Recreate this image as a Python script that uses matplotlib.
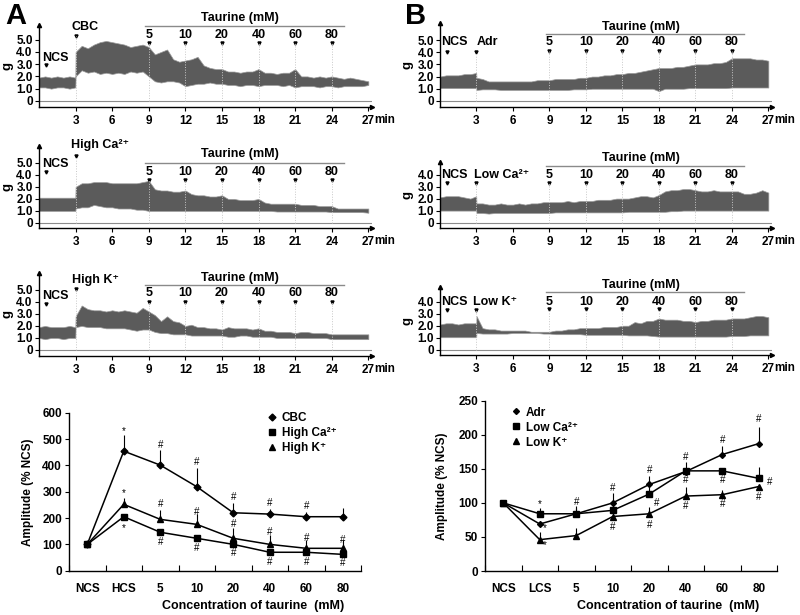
import numpy as np
import matplotlib
matplotlib.use('Agg')
import matplotlib.pyplot as plt
from matplotlib.lines import Line2D

plt.rcParams['font.family'] = ['Liberation Sans', 'DejaVu Sans']
plt.rcParams['font.weight'] = 'bold'

# ---------------- data ----------------
trace_time = [0, 0.5, 1, 1.5, 2, 2.5, 2.98] + list(np.arange(3.0, 27.01, 0.5))

cbc_up = [1.9, 2.0, 1.9, 2.0, 1.9, 2.0, 1.9,
          4.0,
          4.5, 4.3, 4.6, 4.8, 4.9, 4.8, 4.7, 4.6, 4.4, 4.5, 4.6, 4.4,
          3.8, 4.0, 4.2, 3.4, 3.2, 3.3, 3.4, 3.6, 2.9, 2.7, 2.6, 2.6,
          2.4, 2.4, 2.3, 2.4, 2.4, 2.6, 2.3, 2.3, 2.2, 2.3, 2.3, 2.6,
          2.0, 2.0, 1.9, 2.0, 1.9, 2.0, 1.9, 1.8, 1.9, 1.8, 1.7, 1.6]
cbc_lo = [1.1, 1.1, 1.0, 1.1, 1.1, 1.0, 1.1,
          2.0,
          2.5, 2.3, 2.4, 2.2, 2.3, 2.2, 2.3, 2.2, 2.4, 2.3, 2.4, 2.0,
          1.6, 1.5, 1.6, 1.6, 1.5, 1.2, 1.3, 1.4, 1.4, 1.5, 1.4, 1.4,
          1.3, 1.3, 1.2, 1.3, 1.3, 1.2, 1.3, 1.3, 1.3, 1.2, 1.3, 1.1,
          1.2, 1.2, 1.2, 1.1, 1.2, 1.2, 1.1, 1.2, 1.2, 1.2, 1.2, 1.3]

hca_up = [2.1, 2.1, 2.1, 2.1, 2.1, 2.1, 2.1,
          3.0,
          3.3, 3.3, 3.4, 3.4, 3.4, 3.3, 3.3, 3.3, 3.3, 3.3, 3.4, 3.5,
          2.8, 2.7, 2.7, 2.6, 2.6, 2.7, 2.4, 2.3, 2.3, 2.2, 2.2, 2.3,
          2.0, 2.0, 1.9, 1.9, 1.9, 2.0, 1.7, 1.6, 1.6, 1.6, 1.6, 1.6,
          1.5, 1.5, 1.5, 1.4, 1.4, 1.4, 1.2, 1.2, 1.2, 1.2, 1.2, 1.2]
hca_lo = [1.0, 1.0, 1.0, 1.0, 1.0, 1.0, 1.0,
          1.2,
          1.3, 1.3, 1.5, 1.4, 1.3, 1.3, 1.2, 1.2, 1.2, 1.1, 1.1, 1.0,
          1.0, 1.0, 1.0, 1.0, 1.0, 1.0, 1.0, 1.0, 1.0, 1.0, 1.0, 1.0,
          1.0, 1.0, 1.0, 1.0, 1.0, 1.0, 1.0, 1.0, 0.95, 0.95, 0.95, 0.95,
          0.95, 0.95, 0.95, 0.95, 0.95, 0.9, 0.9, 0.9, 0.9, 0.9, 0.9, 0.85]

hk_up = [1.9, 2.0, 1.9, 1.9, 1.9, 2.0, 1.9,
         2.8,
         3.7, 3.4, 3.3, 3.3, 3.2, 3.3, 3.2, 3.3, 3.2, 3.1, 3.5, 3.2,
         2.9, 2.4, 2.8, 2.4, 2.3, 2.0, 2.1, 1.9, 1.9, 1.8, 1.8, 1.7,
         1.9, 1.8, 1.8, 1.8, 1.7, 1.8, 1.6, 1.6, 1.5, 1.5, 1.5, 1.4,
         1.5, 1.5, 1.4, 1.4, 1.4, 1.3, 1.3, 1.3, 1.3, 1.3, 1.3, 1.3]
hk_lo = [1.0, 0.9, 1.0, 1.0, 0.9, 1.0, 1.0,
         1.9,
         2.0, 1.9, 1.9, 1.9, 1.8, 1.8, 1.8, 1.8, 1.7, 1.6, 1.7, 1.7,
         1.5, 1.4, 1.4, 1.3, 1.3, 1.3, 1.2, 1.2, 1.2, 1.2, 1.2, 1.2,
         1.1, 1.1, 1.2, 1.2, 1.1, 1.1, 1.1, 1.1, 1.0, 1.0, 1.0, 1.0,
         1.0, 1.0, 1.0, 1.0, 1.0, 0.9, 0.9, 0.9, 0.9, 0.9, 0.9, 0.9]

adr_up = [2.0, 2.1, 2.1, 2.1, 2.2, 2.2, 2.3,
          1.9,
          1.8, 1.6, 1.6, 1.6, 1.6, 1.6, 1.6, 1.6, 1.6, 1.7, 1.7, 1.7,
          1.8, 1.8, 1.8, 1.8, 1.9, 1.9, 2.0, 2.0, 2.1, 2.1, 2.2, 2.2,
          2.3, 2.3, 2.4, 2.5, 2.6, 2.7, 2.7, 2.7, 2.8, 2.8, 2.9, 3.0,
          3.0, 3.0, 3.1, 3.1, 3.2, 3.5, 3.5, 3.5, 3.5, 3.4, 3.4, 3.3]
adr_lo = [1.05, 1.05, 1.05, 1.05, 1.05, 1.05, 1.05,
          0.9,
          0.95, 0.95, 0.95, 0.9, 0.9, 0.9, 0.9, 0.9, 0.9, 0.9, 0.9, 0.9,
          0.9, 0.9, 0.9, 0.95, 0.95, 0.95, 1.0, 1.0, 1.0, 1.0, 1.0, 1.0,
          1.0, 1.0, 1.0, 1.0, 1.0, 0.8, 1.0, 1.0, 1.0, 1.0, 1.05, 1.05,
          1.05, 1.05, 1.05, 1.05, 1.05, 1.1, 1.1, 1.1, 1.1, 1.1, 1.1, 1.1]

lca_up = [2.1, 2.2, 2.2, 2.2, 2.1, 2.0, 2.2,
          1.6,
          1.6, 1.5, 1.5, 1.6, 1.5, 1.5, 1.6, 1.5, 1.6, 1.6, 1.7, 1.7,
          1.7, 1.7, 1.8, 1.7, 1.8, 1.8, 1.8, 1.9, 1.9, 1.9, 2.0, 2.0,
          2.0, 2.1, 2.2, 2.2, 2.1, 2.3, 2.6, 2.7, 2.7, 2.8, 2.8, 2.7,
          2.6, 2.6, 2.7, 2.6, 2.6, 2.6, 2.6, 2.4, 2.4, 2.5, 2.7, 2.5]
lca_lo = [1.0, 1.0, 1.0, 1.0, 1.0, 1.0, 1.0,
          0.8,
          0.8, 0.75, 0.8, 0.8, 0.8, 0.8, 0.8, 0.8, 0.8, 0.8, 0.8, 0.8,
          0.85, 0.85, 0.85, 0.85, 0.85, 0.85, 0.85, 0.85, 0.85, 0.85, 0.85, 0.85,
          0.9, 0.9, 0.9, 0.9, 0.9, 0.9, 0.9, 0.95, 0.95, 1.0, 1.0, 1.0,
          1.0, 1.0, 1.0, 1.0, 1.0, 1.0, 1.0, 1.0, 1.0, 1.0, 1.0, 1.0]

lk_up = [2.1, 2.2, 2.2, 2.1, 2.2, 2.2, 2.2,
         2.8,
         1.8, 1.7, 1.7, 1.6, 1.6, 1.6, 1.6, 1.6, 1.5, 1.5, 1.5, 1.5,
         1.6, 1.6, 1.7, 1.7, 1.8, 1.8, 1.8, 1.8, 1.9, 1.9, 1.9, 2.0,
         2.0, 2.3, 2.2, 2.4, 2.4, 2.6, 2.5, 2.5, 2.5, 2.4, 2.4, 2.3,
         2.4, 2.4, 2.5, 2.5, 2.5, 2.6, 2.6, 2.6, 2.7, 2.8, 2.8, 2.7]
lk_lo = [1.05, 1.05, 1.05, 1.05, 1.05, 1.05, 1.05,
         1.4,
         1.35, 1.35, 1.35, 1.35, 1.35, 1.4, 1.4, 1.4, 1.4, 1.4, 1.35, 1.35,
         1.3, 1.3, 1.3, 1.3, 1.3, 1.25, 1.25, 1.25, 1.25, 1.25, 1.25, 1.25,
         1.2, 1.2, 1.2, 1.2, 1.15, 1.1, 1.1, 1.1, 1.1, 1.1, 1.1, 1.1,
         1.1, 1.1, 1.1, 1.1, 1.1, 1.15, 1.15, 1.15, 1.2, 1.2, 1.2, 1.2]

taurine_labels = ['5', '10', '20', '40', '60', '80']
taurine_times = [9, 12, 15, 18, 21, 24]
minute_ticks = [3, 6, 9, 12, 15, 18, 21, 24, 27]

cats_left = ['NCS', 'HCS', '5', '10', '20', '40', '60', '80']
cbc_amp = [100, 454, 401, 319, 220, 215, 205, 205]
cbc_err = [0, 61, 57, 70, 36, 18, 19, 32]
hca_amp = [100, 205, 146, 123, 100, 70, 70, 62]
hca_err = [0, 8, 8, 8, 8, 6, 6, 6]
hk_amp = [100, 252, 195, 176, 123, 100, 85, 85]
hk_err = [0, 25, 35, 38, 38, 35, 31, 31]
left_marks = [(1, 532, '*'), (2, 477, '#'), (3, 414, '#'), (4, 281, '#'), (5, 258, '#'), (6, 247, '#'),
              (1, 296, '*'), (2, 252, '#'), (3, 224, '#'), (4, 176, '#'), (5, 148, '#'), (6, 123, '#'), (7, 116, '#'),
              (1, 161, '*'), (2, 110, '#'), (3, 87, '#'), (4, 66, '#'), (5, 34, '#'), (6, 34, '#'), (7, 30, '#')]

cats_right = ['NCS', 'LCS', '5', '10', '20', '40', '60', '80']
adr_amp = [100, 69, 84, 100, 127, 146, 171, 187]
adr_err = [0, 0, 12, 14, 13, 14, 12, 25]
lca_amp = [100, 84, 84, 89, 113, 147, 147, 136]
lca_err = [0, 9, 8, 10, 12, 0, 0, 17]
lk_amp = [100, 46, 52, 80, 84, 110, 112, 124]
lk_err = [0, 11, 11, 8, 10, 14, 7, 0]
right_marks = [(1.15, 63, '*'), (2, 102, '#'), (3, 122, '#'), (4, 148, '#'), (5, 168, '#'), (6, 193, '#'), (7, 223, '#'),
               (1, 98, '*'), (4.2, 100, '#'), (5, 133, '#'), (6, 134, '#'), (7.3, 131, '#'),
               (1.15, 38, '*'), (3, 65, '#'), (4, 68, '#'), (5, 96, '#'), (6, 99, '#'), (7, 109, '#')]

# ---------------- figure ----------------
W, H = 800, 615
fig = plt.figure(figsize=(W / 100, H / 100), dpi=100)
FILL = '#5b5b5b'
TFS = 8.5   # trace tick font size
LFS = 9     # trace label font size


def px_axes(x0, x1, ytop, ybot):
    return fig.add_axes([x0 / W, 1 - ybot / H, (x1 - x0) / W, (ybot - ytop) / H])


def trace_panel(px, ylim, ymax_tick, upper, lower, stim, cfg, glabel_x):
    ax = px_axes(*px)
    ax.fill_between(trace_time, lower, upper, facecolor=FILL, edgecolor='#9c9c9c', lw=0.5, zorder=2)
    ax.set_xlim(0, 27.3)
    ax.set_ylim(*ylim)
    ax.axhline(0, color='#8c8c8c', lw=0.8, zorder=1)
    for s in ('top', 'right'):
        ax.spines[s].set_visible(False)
    for s in ('left', 'bottom'):
        ax.spines[s].set_linewidth(1.0)
    yt = list(range(0, ymax_tick + 1))
    ax.set_yticks(yt)
    ax.set_yticklabels(['0'] + ['%d.0' % v for v in yt[1:]], fontsize=TFS, fontweight='bold')
    ax.set_xticks(minute_ticks)
    ax.set_xticklabels([str(m) for m in minute_ticks], fontsize=TFS, fontweight='bold')
    ax.tick_params(axis='y', length=3, width=0.8, pad=1.5)
    ax.tick_params(axis='x', length=3, width=0.8, pad=2.5)
    ax.plot(0, 1, marker='^', ms=3, color='k', transform=ax.transAxes, clip_on=False)
    ax.plot(1, 0, marker='>', ms=3, color='k', transform=ax.transAxes, clip_on=False)
    ax.annotate('min', xy=(27, 0), xycoords=('data', 'axes fraction'), xytext=(4, -5.2),
                textcoords='offset points', ha='left', va='top', fontsize=TFS, fontweight='bold')
    # NCS label
    ax.text(cfg['ncs_x'], cfg['ncs_y'], 'NCS', ha='center', va='center', fontsize=LFS, fontweight='bold')
    ax.plot(0.6, cfg['ncs_m'], marker='v', ms=2.2, color='k', clip_on=False)
    # stimulus label
    ax.text(cfg['stim_x'], cfg['stim_y'], stim, ha='center', va='center', fontsize=LFS, fontweight='bold')
    ax.plot(3, cfg['stim_m'], marker='v', ms=2.2, color='k', clip_on=False)
    ax.plot([3, 3], [0, cfg['stim_m']], ls=':', color='#c8c8c8', lw=0.7, zorder=3)
    # taurine bar
    ax.plot([8.7, 25.0], [cfg['line_y']] * 2, color='#8a8a8a', lw=1.0, clip_on=False)
    ax.text(16.5, cfg['tt_y'], 'Taurine (mM)', ha='center', va='center', fontsize=LFS, fontweight='bold')
    for tx, lab in zip(taurine_times, taurine_labels):
        ax.text(tx, cfg['num_y'], lab, ha='center', va='center', fontsize=LFS, fontweight='bold')
        ax.plot(tx, cfg['num_m'], marker='v', ms=2.2, color='k', clip_on=False)
        ax.plot([tx, tx], [0, cfg['num_m']], ls=':', color='#c8c8c8', lw=0.7, zorder=3)
    fig.text(glabel_x / W, 1 - (px[2] + px[3]) / 2 / H, 'g', rotation=90, ha='center', va='center',
             fontsize=9.5, fontweight='bold')
    return ax


trace_panel((39, 372, 25, 107), (-0.5, 6.2), 5, cbc_up, cbc_lo, 'CBC',
            dict(ncs_x=1.35, ncs_y=3.5, ncs_m=2.9, stim_x=3.8, stim_y=6.0, stim_m=5.3,
                 line_y=6.1, tt_y=6.8, num_y=5.4, num_m=4.7), 7)
trace_panel((39, 372, 146, 228), (-0.42, 6.4), 5, hca_up, hca_lo, 'High Ca²⁺',
            dict(ncs_x=1.35, ncs_y=4.9, ncs_m=4.2, stim_x=5.0, stim_y=6.5, stim_m=5.6,
                 line_y=5.0, tt_y=5.7, num_y=4.2, num_m=3.6), 7)
trace_panel((39, 372, 273, 356), (-0.5, 6.4), 5, hk_up, hk_lo, 'High K⁺',
            dict(ncs_x=1.35, ncs_y=4.5, ncs_m=3.8, stim_x=4.65, stim_y=5.8, stim_m=5.05,
                 line_y=5.4, tt_y=6.0, num_y=4.7, num_m=4.0), 7)
trace_panel((440, 772, 23, 107), (-0.5, 6.4), 5, adr_up, adr_lo, 'Adr',
            dict(ncs_x=1.2, ncs_y=4.8, ncs_m=4.0, stim_x=3.9, stim_y=4.8, stim_m=4.0,
                 line_y=5.5, tt_y=6.1, num_y=4.8, num_m=4.1), 407)
trace_panel((440, 772, 162, 228), (-0.45, 5.05), 4, lca_up, lca_lo, 'Low Ca²⁺',
            dict(ncs_x=1.2, ncs_y=4.0, ncs_m=3.3, stim_x=5.1, stim_y=4.0, stim_m=3.3,
                 line_y=4.7, tt_y=5.35, num_y=4.0, num_m=3.3), 407)
trace_panel((440, 772, 287, 355), (-0.42, 5.2), 4, lk_up, lk_lo, 'Low K⁺',
            dict(ncs_x=1.2, ncs_y=4.0, ncs_m=3.3, stim_x=4.5, stim_y=4.0, stim_m=3.3,
                 line_y=4.8, tt_y=5.4, num_y=4.0, num_m=3.4), 407)

fig.text(5 / W, 1 - 2 / H, 'A', fontsize=21, fontweight='bold', va='top', ha='left')
fig.text(405 / W, 1 - 2 / H, 'B', fontsize=21, fontweight='bold', va='top', ha='left')


def amp_panel(px, cats, series, ylim, ystep, marks, legend_anchor, xlab_pos, ylab_pos):
    ax = px_axes(*px)
    x = np.arange(len(cats))
    handles = []
    for vals, lo, hi, mk, ms, lab in series:
        ax.errorbar(x, vals, yerr=[lo, hi], fmt='-', marker=mk, ms=ms, color='k', lw=1.1,
                    elinewidth=0.8, capsize=0, zorder=3)
        handles.append(Line2D([], [], marker=mk, ms=ms, color='k', ls='None', label=lab))
    for xi, yv, sym in marks:
        ax.text(xi, yv, sym, ha='center', va='center', fontsize=7, fontweight='normal')
    ax.set_xlim(-0.5, len(cats) - 0.5)
    ax.set_ylim(*ylim)
    ax.set_yticks(np.arange(ylim[0], ylim[1] + 1, ystep))
    ax.tick_params(axis='y', length=3, width=0.8, pad=2, labelsize=8.5)
    ax.set_xticks(x)
    ax.set_xticklabels(cats, fontsize=8.5, fontweight='bold')
    ax.set_xticks(np.arange(-0.5, len(cats), 1.0), minor=True)
    ax.tick_params(axis='x', which='major', length=0, pad=9)
    ax.tick_params(axis='x', which='minor', length=4, width=0.8, direction='in')
    for s in ('top', 'right'):
        ax.spines[s].set_visible(False)
    for s in ('left', 'bottom'):
        ax.spines[s].set_linewidth(1.0)
    fig.text(ylab_pos[0] / W, 1 - ylab_pos[1] / H, 'Amplitude (% NCS)', rotation=90,
             ha='center', va='center', fontsize=8.5, fontweight='bold')
    fig.text(xlab_pos[0] / W, 1 - xlab_pos[1] / H, 'Concentration of taurine  (mM)',
             ha='center', va='center', fontsize=9, fontweight='bold')
    ax.legend(handles=handles, loc='upper left', bbox_to_anchor=legend_anchor, frameon=False,
              handlelength=0.8, handletextpad=0.4, labelspacing=0.25, borderpad=0,
              prop={'size': 8.5, 'weight': 'bold'})
    return ax


amp_panel((69, 361, 412.7, 570.7), cats_left,
          [(cbc_amp, [0] * 8, cbc_err, 'D', 3.5, 'CBC'),
           (hca_amp, hca_err, [0] * 8, 's', 5, 'High Ca²⁺'),
           (hk_amp, [0] * 8, hk_err, '^', 5, 'High K⁺')],
          (0, 600), 100, left_marks, (0.66, 1.04), (253, 606), (28, 492))

amp_panel((485, 777, 400.7, 571), cats_right,
          [(adr_amp, [0] * 8, adr_err, 'D', 3, 'Adr'),
           (lca_amp, [0] * 8, lca_err, 's', 5, 'Low Ca²⁺'),
           (lk_amp, [0] * 8, lk_err, '^', 4, 'Low K⁺')],
          (0, 250), 50, right_marks, (0.07, 1.0), (668, 606), (442, 486))

fig.savefig('out.png', dpi=100)
